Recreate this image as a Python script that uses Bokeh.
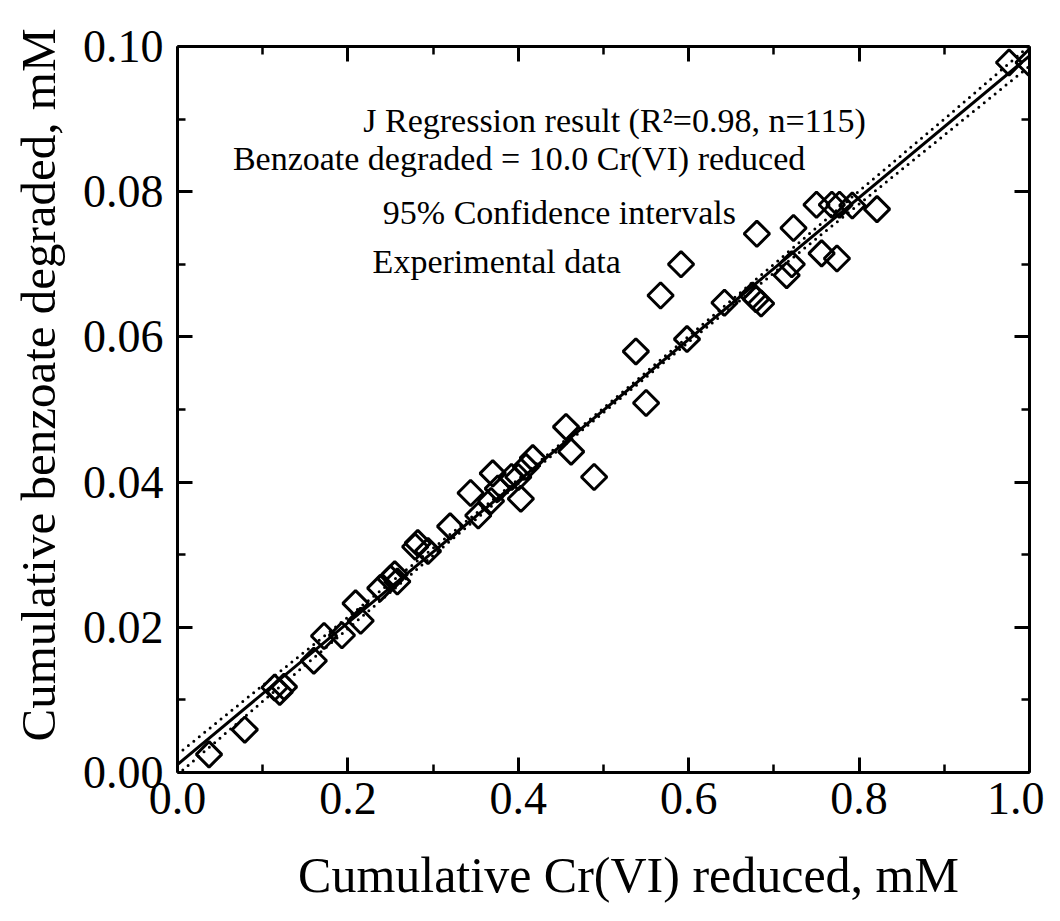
from bokeh.plotting import figure
from bokeh.models import LinearAxis, FixedTicker, NumeralTickFormatter, Label, ColumnDataSource
from bokeh.embed import file_html
from bokeh.resources import INLINE

# ---- data ----
cr_reduced = [0.037, 0.079, 0.114, 0.120, 0.125, 0.160, 0.172, 0.193, 0.209, 0.215,
              0.238, 0.250, 0.255, 0.258, 0.279, 0.282, 0.294, 0.320, 0.344, 0.353,
              0.370, 0.368, 0.376, 0.392, 0.400, 0.403, 0.409, 0.417, 0.456, 0.462,
              0.489, 0.538, 0.550, 0.567, 0.591, 0.598, 0.642, 0.675, 0.679, 0.685,
              0.680, 0.715, 0.721, 0.723, 0.750, 0.756, 0.774, 0.768, 0.777, 0.792,
              0.821, 0.976, 0.999]
benzoate = [0.0025, 0.0059, 0.0117, 0.0111, 0.0118, 0.0154, 0.0188, 0.0189, 0.0233, 0.0209,
            0.0254, 0.0267, 0.0273, 0.0263, 0.0311, 0.0316, 0.0305, 0.0339, 0.0385, 0.0354,
            0.0412, 0.0374, 0.0391, 0.0407, 0.0407, 0.0377, 0.0421, 0.0433, 0.0476, 0.0442,
            0.0407, 0.0580, 0.0509, 0.0657, 0.0700, 0.0597, 0.0647, 0.0657, 0.0652, 0.0646,
            0.0742, 0.0685, 0.0700, 0.0750, 0.0782, 0.0715, 0.0708, 0.0782, 0.0782, 0.0781,
            0.0776, 0.0978, 0.0978]

fit_x = [0.0, 1.0]
fit_y = [0.0011, 0.0987]

ci_x = [0.0, 0.1, 0.2, 0.3, 0.4, 0.5, 0.6, 0.7, 0.8, 0.9, 1.0]
ci_upper = [0.0025, 0.0120, 0.0214, 0.0309, 0.0404, 0.0502, 0.0601, 0.0700, 0.0801, 0.0900, 0.1001]
ci_lower = [-0.0003, 0.0098, 0.0198, 0.0299, 0.0398, 0.0496, 0.0593, 0.0688, 0.0783, 0.0878, 0.0973]

x_major = [0.0, 0.2, 0.4, 0.6, 0.8, 1.0]
x_minor = [0.1, 0.3, 0.5, 0.7, 0.9]
y_major = [0.0, 0.02, 0.04, 0.06, 0.08, 0.10]
y_minor = [0.01, 0.03, 0.05, 0.07, 0.09]

legend_texts = ["J Regression result (R\u00b2=0.98, n=115)",
                "Benzoate degraded = 10.0 Cr(VI) reduced",
                "95% Confidence intervals",
                "Experimental data"]
legend_x = [0.218, 0.065, 0.241, 0.229]
legend_y = [0.0898, 0.0846, 0.0772, 0.0704]

x_title = "Cumulative Cr(VI) reduced, mM"
y_title = "Cumulative benzoate  degraded, mM"

FONT = "Liberation Serif"
NB = "\u00a0"

p = figure(width=1044, height=905, x_range=(0, 1.0), y_range=(0, 0.10),
           output_backend="svg", toolbar_location=None,
           min_border_left=177, min_border_right=15, min_border_top=46, min_border_bottom=130)
p.outline_line_color = None
p.xgrid.visible = False
p.ygrid.visible = False
p.background_fill_color = "white"
p.border_fill_color = "white"

xt = FixedTicker(ticks=x_major, minor_ticks=x_minor)
yt = FixedTicker(ticks=y_major, minor_ticks=y_minor)


def style_axis(ax, show_labels, ticks):
    ax.axis_line_width = 3
    ax.axis_line_color = "black"
    ax.major_tick_in = 15
    ax.major_tick_out = 0
    ax.minor_tick_in = 8
    ax.minor_tick_out = 0
    ax.major_tick_line_width = 3
    ax.minor_tick_line_width = 2.5
    ax.major_tick_line_color = "black"
    ax.minor_tick_line_color = "black"
    if show_labels:
        ax.major_label_text_font = FONT
        ax.major_label_text_font_size = "46px"
        ax.major_label_text_color = "black"
    else:
        ax.major_label_overrides = {t: "" for t in ticks}
        ax.major_label_standoff = 0


xa = p.xaxis[0]
xa.ticker = xt
xa.formatter = NumeralTickFormatter(format="0.0")
style_axis(xa, True, x_major)
xa.major_label_standoff = 10
xa.axis_label = NB * 4 + x_title
xa.axis_label_text_font = FONT
xa.axis_label_text_font_size = "50px"
xa.axis_label_text_font_style = "normal"
xa.axis_label_text_color = "black"
xa.axis_label_standoff = 30

ya = p.yaxis[0]
ya.ticker = yt
ya.formatter = NumeralTickFormatter(format="0.00")
style_axis(ya, True, y_major)
ya.major_label_standoff = 14
ya.axis_label = NB * 5 + y_title
ya.axis_label_text_font = FONT
ya.axis_label_text_font_size = "49px"
ya.axis_label_text_font_style = "normal"
ya.axis_label_text_color = "black"
ya.axis_label_standoff = 14

top = LinearAxis(ticker=xt)
style_axis(top, False, x_major)
p.add_layout(top, "above")
right = LinearAxis(ticker=yt)
style_axis(right, False, y_major)
p.add_layout(right, "right")

# confidence intervals (dotted)
p.line(ci_x, ci_upper, line_color="black", line_width=3, line_dash="0 7", line_cap="round")
p.line(ci_x, ci_lower, line_color="black", line_width=3, line_dash="0 7", line_cap="round")
# regression line
p.line(fit_x, fit_y, line_color="black", line_width=3)

# experimental data: hollow diamonds
src = ColumnDataSource(dict(x=cr_reduced, y=benzoate))
p.scatter("x", "y", source=src, marker="square", size=18, angle=0.785398,
          fill_color=None, line_color="black", line_width=3)

for t, lx, ly in zip(legend_texts, legend_x, legend_y):
    p.add_layout(Label(x=lx, y=ly, text=t, text_font=FONT, text_font_size="34px",
                       text_baseline="middle", text_align="left", text_color="black"))

open("out.html", "w").write(file_html(p, INLINE))
